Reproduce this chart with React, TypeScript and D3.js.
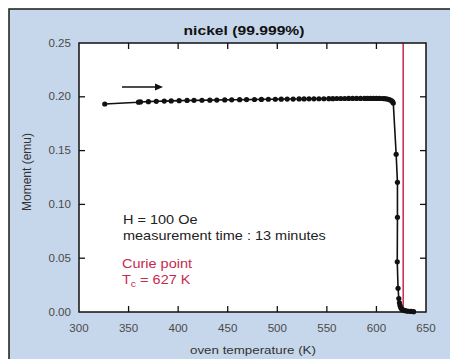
import React from "react";
import * as d3 from "d3";

// Heating run of a nickel sample: oven temperature (K) vs magnetic moment (emu)
const temperature = [
  326, 360, 362, 370, 378, 386, 393, 401, 409, 416, 424, 432, 439, 447, 454,
  462, 469, 477, 484, 491, 498, 504, 510, 516, 522, 527, 532, 537, 542, 547,
  552, 556, 560, 564, 568, 572, 576, 580, 584, 588, 591, 594, 597, 600, 603,
  606, 608, 610, 612, 613.5, 615, 616.2, 617, 619.9, 621.2, 621.2, 621, 621.8,
  622.6, 623.2, 623.8, 624.5, 625.3, 626.2, 627.5, 629, 630.8, 632.8, 635, 637.5,
];
const moment = [
  0.1933, 0.195, 0.1952, 0.1955, 0.1958, 0.196, 0.1962, 0.1964, 0.1966, 0.1967,
  0.1968, 0.1969, 0.197, 0.1971, 0.1972, 0.1973, 0.1974, 0.1975, 0.1976, 0.1977,
  0.1977, 0.1978, 0.1979, 0.1979, 0.198, 0.198, 0.1981, 0.1981, 0.1982, 0.1982,
  0.1983, 0.1983, 0.1984, 0.1984, 0.1984, 0.1985, 0.1985, 0.1985, 0.1985,
  0.1985, 0.1985, 0.1985, 0.1985, 0.1985, 0.1985, 0.1984, 0.1983, 0.1981,
  0.1977, 0.1972, 0.1965, 0.1955, 0.1942, 0.1466, 0.1205, 0.088, 0.0467, 0.022,
  0.0125, 0.0085, 0.006, 0.0042, 0.003, 0.0022, 0.0016, 0.0012, 0.0009,
  0.0007, 0.0005, 0.0003,
];

const xTicks = [300, 350, 400, 450, 500, 550, 600, 650];
const yTicks = [0, 0.05, 0.1, 0.15, 0.2, 0.25];
const curieTemperature = 627;

const W = 450;
const H = 359;
const plot = { left: 79, right: 426, top: 43, bottom: 312 };
const STRETCH = 1.16;

// Text drawn with a slight horizontal widening of the glyphs
function SText({
  x,
  y,
  children,
  anchor = "start",
  size,
  fill,
  weight,
}: {
  x: number;
  y: number;
  children: React.ReactNode;
  anchor?: "start" | "middle" | "end";
  size: number;
  fill: string;
  weight?: string;
}) {
  return (
    <g transform={`translate(${x},${y}) scale(${STRETCH},1)`}>
      <text x={0} y={0} textAnchor={anchor} fontSize={size} fill={fill} fontWeight={weight}>
        {children}
      </text>
    </g>
  );
}

export default function App() {
  const x = d3.scaleLinear().domain([300, 650]).range([plot.left, plot.right]);
  const y = d3.scaleLinear().domain([0, 0.25]).range([plot.bottom, plot.top]);
  const points = temperature.map((t, i) => [t, moment[i]] as [number, number]);
  const line = d3
    .line<[number, number]>()
    .x((d) => x(d[0]))
    .y((d) => y(d[1]));

  const font = "Liberation Sans, Arial, Helvetica, sans-serif";
  const tickLen = 6;
  const red = "#c8284e";
  const grey = "#4a4a4a";

  return (
    <svg
      width={W}
      height={H}
      style={{ position: "absolute", left: 0, top: 0 }}
      fontFamily={font}
    >
      <rect x={0} y={0} width={W} height={H} fill="#ffffff" />
      <rect
        x={9}
        y={9}
        width={W + 20}
        height={H + 20}
        fill="#c7d7eb"
        stroke="#1a1a1a"
        strokeWidth={1.5}
      />
      <SText x={244} y={35} anchor="middle" size={13.5} weight="bold" fill="#111">
        nickel (99.999%)
      </SText>

      <rect
        x={plot.left}
        y={plot.top}
        width={plot.right - plot.left}
        height={plot.bottom - plot.top}
        fill="#ffffff"
      />

      {/* ticks pointing into the plot on all four sides */}
      {xTicks.slice(1, -1).map((t) => (
        <g key={"xt" + t} stroke="#111" strokeWidth={1.3}>
          <line x1={x(t)} x2={x(t)} y1={plot.bottom} y2={plot.bottom - tickLen} />
          <line x1={x(t)} x2={x(t)} y1={plot.top} y2={plot.top + tickLen} />
        </g>
      ))}
      {yTicks.slice(1, -1).map((t) => (
        <g key={"yt" + t} stroke="#111" strokeWidth={1.3}>
          <line x1={plot.left} x2={plot.left + tickLen} y1={y(t)} y2={y(t)} />
          <line x1={plot.right} x2={plot.right - tickLen} y1={y(t)} y2={y(t)} />
        </g>
      ))}

      {xTicks.map((t) => (
        <SText key={"xl" + t} x={x(t)} y={332} anchor="middle" size={10} fill={grey}>
          {t}
        </SText>
      ))}
      {yTicks.map((t) => (
        <SText key={"yl" + t} x={71} y={y(t) + 3.5} anchor="end" size={10} fill={grey}>
          {d3.format(".2f")(t)}
        </SText>
      ))}

      <SText x={253} y={354} anchor="middle" size={11.5} fill="#333">
        oven temperature (K)
      </SText>
      <text
        transform={`translate(31, 172) rotate(-90)`}
        textAnchor="middle"
        fontSize={12}
        fill="#333"
      >
        Moment (emu)
      </text>

      {/* Curie temperature marker */}
      <line
        x1={x(curieTemperature)}
        x2={x(curieTemperature)}
        y1={plot.top}
        y2={plot.bottom}
        stroke={red}
        strokeWidth={1.5}
      />

      {/* heating direction arrow */}
      <line x1={122} x2={158} y1={87} y2={87} stroke="#111" strokeWidth={1.3} />
      <path d="M163,87 L155,83.5 L155,90.5 Z" fill="#111" />

      <path d={line(points) ?? ""} fill="none" stroke="#111" strokeWidth={1.6} />
      {points.map((d, i) => (
        <circle key={i} cx={x(d[0])} cy={y(d[1])} r={2.6} fill="#111" />
      ))}

      <SText x={123} y={224} size={12.5} fill="#222">
        H = 100 Oe
      </SText>
      <SText x={123} y={240} size={12.5} fill="#222">
        measurement time : 13 minutes
      </SText>
      <SText x={122} y={268} size={12.5} fill={red}>
        Curie point
      </SText>
      <SText x={122} y={284} size={12.5} fill={red}>
        T
        <tspan fontSize={9} dy={3}>
          c
        </tspan>
        <tspan dy={-3}> = 627 K</tspan>
      </SText>

      <rect
        x={plot.left}
        y={plot.top}
        width={plot.right - plot.left}
        height={plot.bottom - plot.top}
        fill="none"
        stroke="#111"
        strokeWidth={1.5}
      />
    </svg>
  );
}
